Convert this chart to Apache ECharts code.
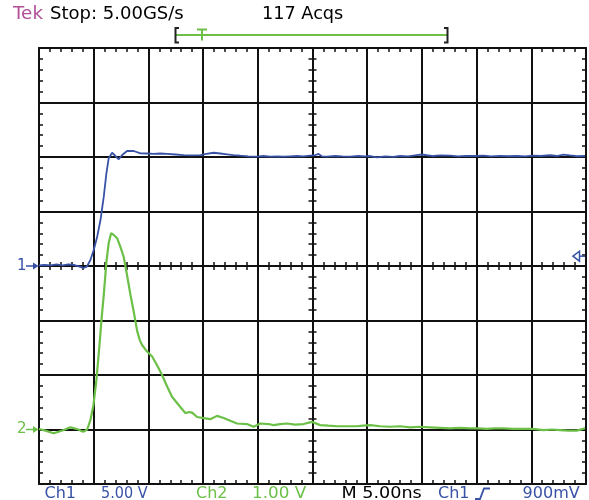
<!DOCTYPE html>
<html><head><meta charset="utf-8">
<script src="https://cdn.jsdelivr.net/npm/echarts@6/dist/echarts.min.js"></script>
<style>html,body{margin:0;padding:0;background:#fff}#c{width:589px;height:500px}</style>
</head><body><div id="c"></div>
<script>
// ---- data (time in ns, volts) ----
const ch1Time = [0.00,0.50,1.05,1.60,2.15,2.69,3.24,3.70,4.06,4.38,4.70,5.00,5.32,5.62,5.92,6.16,6.37,6.68,6.99,7.29,7.60,8.05,8.66,9.27,9.88,10.48,11.10,11.71,12.47,13.22,13.93,14.75,15.30,15.96,16.58,17.19,17.76,18.40,19.13,19.93,20.50,21.14,21.78,22.36,22.97,23.58,24.16,24.79,25.16,25.55,25.89,26.32,27.08,27.72,28.45,29.18,29.82,30.27,30.89,31.64,32.37,33.01,33.74,34.54,35.00,35.45,36.03,36.67,37.58,38.31,39.04,39.86,40.62,41.32,42.15,42.88,43.67,44.43,45.16,45.89,46.71,47.35,47.93,48.54,49.18,49.91];
const ch1Volts = [0.05,0.09,0.06,0.14,0.05,0.14,0.09,-0.05,-0.18,-0.05,0.55,1.47,2.69,4.22,6.36,8.50,9.88,10.39,10.09,9.79,10.18,10.55,10.55,10.34,10.32,10.28,10.32,10.28,10.23,10.18,10.14,10.18,10.28,10.39,10.32,10.25,10.18,10.12,10.06,10.03,10.09,10.03,10.06,10.03,10.06,10.09,10.05,10.12,10.14,10.28,10.05,10.03,10.09,10.05,10.03,10.09,10.05,10.09,9.97,10.05,10.02,10.09,10.06,10.18,10.23,10.16,10.09,10.14,10.12,10.06,10.11,10.09,10.12,10.06,10.11,10.07,10.09,10.05,10.12,10.09,10.16,10.09,10.21,10.14,10.07,10.09];
const ch2Time = [0.00,0.59,1.05,1.35,1.78,2.26,2.60,2.88,3.24,3.61,3.88,4.09,4.40,4.70,4.98,5.25,5.53,5.71,5.92,6.16,6.37,6.59,6.83,7.14,7.44,7.74,8.05,8.36,8.66,8.97,9.21,9.42,9.88,10.34,10.79,11.25,11.71,12.16,12.77,13.38,13.74,13.99,14.45,15.05,15.66,16.27,16.88,17.49,18.10,19.01,19.62,20.23,20.99,21.44,22.05,22.67,23.42,24.18,24.95,25.71,26.44,27.23,28.08,29.06,29.63,30.27,31.19,32.10,33.01,33.93,34.84,35.75,36.67,37.58,38.49,39.41,40.14,40.93,41.69,42.45,43.33,44.27,45.16,46.10,46.89,47.63,48.36,49.15,49.91];
const ch2Volts = [0.01,-0.02,-0.05,-0.07,-0.04,-0.01,0.02,0.04,0.02,0.00,-0.03,-0.04,0.00,0.17,0.45,0.91,1.55,2.01,2.47,3.07,3.42,3.60,3.57,3.51,3.35,3.17,2.83,2.47,2.16,1.81,1.64,1.55,1.43,1.34,1.18,1.00,0.79,0.60,0.45,0.30,0.32,0.31,0.23,0.21,0.19,0.25,0.21,0.16,0.11,0.10,0.05,0.11,0.10,0.08,0.10,0.11,0.09,0.10,0.14,0.08,0.07,0.06,0.06,0.06,0.07,0.08,0.06,0.05,0.06,0.04,0.05,0.04,0.03,0.02,0.03,0.02,0.02,0.01,0.02,0.02,0.01,0.01,0.01,-0.01,0.00,-0.01,-0.02,-0.02,0.02];
const timeRange = [0, 50];      // 5.00 ns/div, 10 div
const ch1Range = [-20, 20];     // 5.00 V/div, 8 div
const ch2Range = [-1, 7];       // 1.00 V/div, 8 div
const triggerLevel = 0.9;       // 900 mV on Ch1
const topTexts = ['Tek', 'Stop: 5.00GS/s', '117 Acqs'];
const bottomTexts = ['Ch1', '5.00 V', 'Ch2', '1.00 V', 'M 5.00ns', 'Ch1', '900mV'];

const BLUE = '#3852a6', GREEN = '#6cbf47', PINK = '#b14f97', INK = '#111';
const FONT = 'DejaVu Sans';

const chart = echarts.init(document.getElementById('c'), null, {renderer: 'canvas'});

function tickStyle(inside, len) {
  return {
    axisTick: {show: true, inside: inside, length: len, lineStyle: {color: INK, width: 1.5}},
    minorTick: {show: true, splitNumber: 5, length: len, lineStyle: {color: INK, width: 1.5}}
  };
}
function xAx(pos, offset, inside, line, split) {
  return Object.assign({
    type: 'value', min: timeRange[0], max: timeRange[1], interval: 5,
    position: pos, offset: offset, gridIndex: 0,
    axisLine: {show: line, onZero: false, lineStyle: {color: INK, width: 2}},
    axisLabel: {show: false},
    splitLine: {show: split, lineStyle: {color: INK, width: 2}}
  }, tickStyle(inside, 4));
}
function yAx(range, pos, offset, inside, line, split) {
  return Object.assign({
    type: 'value', min: range[0], max: range[1], interval: (range[1] - range[0]) / 8,
    position: pos, offset: offset, gridIndex: 0,
    axisLine: {show: line, onZero: false, lineStyle: {color: INK, width: 2}},
    axisLabel: {show: false},
    splitLine: {show: split, lineStyle: {color: INK, width: 2}}
  }, tickStyle(inside, 4));
}

const G = {left: 39, top: 48, width: 547, height: 436};

chart.setOption({
  animation: false,
  backgroundColor: '#fff',
  grid: {left: G.left, top: G.top, width: G.width, height: G.height, containLabel: false},
  xAxis: [
    xAx('bottom', 0, true, true, true),
    xAx('top', 0, true, true, false),
    xAx('bottom', -G.height / 2, true, false, false),
    xAx('bottom', -G.height / 2, false, false, false)
  ],
  yAxis: [
    yAx(ch1Range, 'left', 0, true, true, true),
    yAx(ch2Range, 'right', 0, true, true, false),
    yAx(ch1Range, 'left', -G.width / 2, true, false, false),
    yAx(ch1Range, 'left', -G.width / 2, false, false, false)
  ],
  series: [
    {name: 'Ch1', type: 'line', xAxisIndex: 0, yAxisIndex: 0, showSymbol: false, z: 5,
     lineStyle: {color: BLUE, width: 1.8}, itemStyle: {color: BLUE},
     data: ch1Time.map((t, i) => [t, ch1Volts[i]])},
    {name: 'Ch2', type: 'line', xAxisIndex: 0, yAxisIndex: 1, showSymbol: false, z: 5,
     lineStyle: {color: GREEN, width: 2.2}, itemStyle: {color: GREEN},
     data: ch2Time.map((t, i) => [t, ch2Volts[i]])}
  ]
});

// annotations anchored to the axes
const y1 = chart.convertToPixel({yAxisIndex: 0}, 0);
const y2 = chart.convertToPixel({yAxisIndex: 1}, 0);
const yT = chart.convertToPixel({yAxisIndex: 0}, triggerLevel);
const xR = chart.convertToPixel({xAxisIndex: 0}, timeRange[1]);

function txt(x, y, s, color, size, sx) {
  return {type: 'text', x: x, y: y, z: 10, scaleX: sx || 1,
    style: {text: s, fill: color, font: size + 'px "' + FONT + '"', verticalAlign: 'middle', align: 'left'}};
}
function pl(points, color, w) {
  return {type: 'polyline', z: 10, shape: {points: points}, style: {stroke: color, lineWidth: w, fill: null}};
}
function chanMarker(label, y, color) {
  return [
    txt(17, y, label, color, 15),
    pl([[26, y], [37, y]], color, 1.5),
    {type: 'polygon', z: 10, shape: {points: [[33, y - 3.5], [38.5, y], [33, y + 3.5]]}, style: {fill: color}}
  ];
}

const gfx = [
  txt(13, 15, topTexts[0], PINK, 17, 1.08),
  txt(50, 15, topTexts[1], '#000', 17, 1.06),
  txt(262, 15, topTexts[2], '#000', 17, 1.04),
  // record view bracket
  pl([[176, 35], [447, 35]], GREEN, 2),
  pl([[179, 28], [175.5, 28], [175.5, 42.5], [179, 42.5]], '#222', 2),
  pl([[444, 28], [447.5, 28], [447.5, 42.5], [444, 42.5]], '#222', 2),
  pl([[197, 29.5], [207, 29.5]], GREEN, 2),
  pl([[202, 29.5], [202, 40.5]], GREEN, 2),
  // bottom readout
  txt(44.5, 494, bottomTexts[0], BLUE, 16),
  txt(101, 494, bottomTexts[1], BLUE, 16, 0.9),
  txt(196, 494, bottomTexts[2], GREEN, 16),
  txt(252, 494, bottomTexts[3], GREEN, 16, 1.05),
  txt(341.5, 494, bottomTexts[4], '#000', 16, 1.1),
  txt(438, 494, bottomTexts[5], BLUE, 16),
  pl([[475, 499], [480, 499], [484, 488.5], [490, 488.5]], BLUE, 1.8),
  txt(522.6, 494, bottomTexts[6], BLUE, 16),
  // trigger level marker on right edge
  {type: 'polygon', z: 10, shape: {points: [[573, yT], [579.5, yT - 5], [579.5, yT + 5]]},
   style: {stroke: BLUE, lineWidth: 1.5, fill: '#fff'}},
  pl([[579.5, yT], [xR - 1, yT]], BLUE, 1.5)
].concat(chanMarker('1', y1, BLUE), chanMarker('2', y2, GREEN));

chart.setOption({graphic: {elements: gfx}});
</script>
</body></html>
